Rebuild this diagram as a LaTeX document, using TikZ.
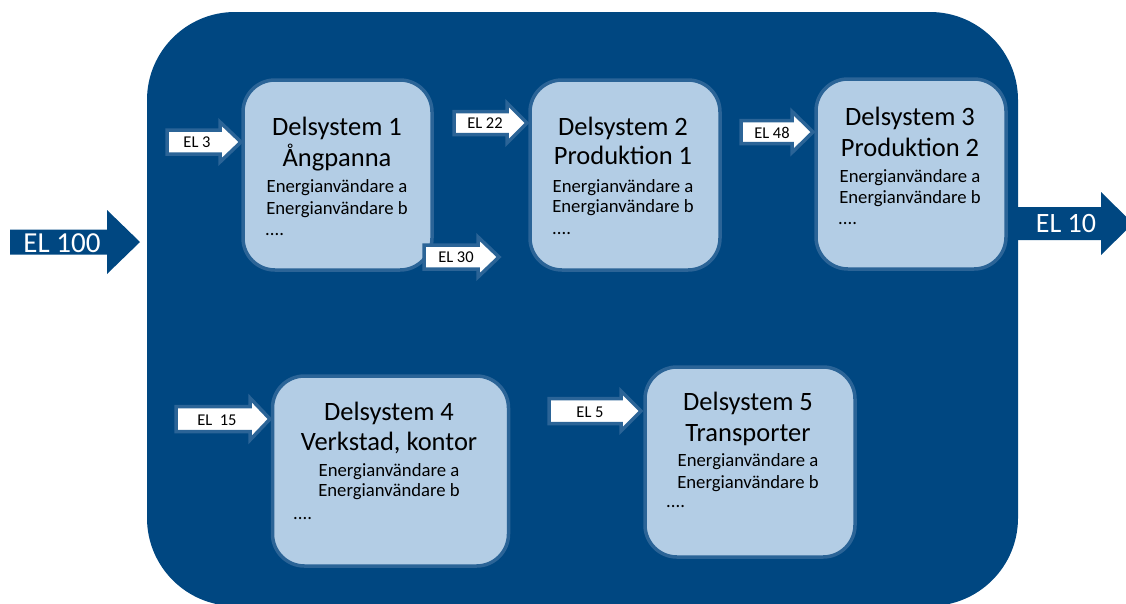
\documentclass[tikz,border=0pt]{standalone}
\usepackage{fontspec}
\setmainfont{Carlito}
\definecolor{panelblue}{HTML}{004781}
\definecolor{boxfill}{HTML}{B3CDE5}
\definecolor{boxline}{HTML}{2B6497}
\newcommand\blockarrow[7]{%
  \path[#1] ({#2},{#5-#6}) -- ({#3},{#5-#6}) -- ({#3},{#5-#7}) -- ({#4},{#5})
    -- ({#3},{#5+#7}) -- ({#3},{#5+#6}) -- ({#2},{#5+#6}) -- cycle;}
\tikzset{
  panel/.style={fill=panelblue, draw=none, rounded corners=88pt, inner sep=0pt},
  subsys/.style={fill=boxfill, draw=boxline, line width=3.5pt, rounded corners=32pt,
    minimum height=190pt, inner sep=0pt},
  flowin/.style={fill=white, draw=boxline, line width=3.5pt},
  flowbig/.style={fill=panelblue, draw=none},
  titletext/.style={font=\fontsize{26.5}{30}\selectfont, anchor=base, inner sep=0pt},
  usertext/.style={font=\fontsize{18.7}{22}\selectfont, anchor=base, inner sep=0pt},
  dotstext/.style={font=\fontsize{18.7}{22}\selectfont, anchor=base west, inner sep=0pt},
  ellabel/.style={font=\fontsize{16.5}{19}\selectfont, anchor=base, inner sep=0pt},
  biglabel/.style={font=\fontsize{28}{32}\selectfont, text=white, anchor=base, inner sep=0pt},
}
\begin{document}
\begin{tikzpicture}[x=1pt,y=-1pt]
\useasboundingbox (0,0) rectangle (1126,603);
\clip (0,0) rectangle (1126,603);

% big panel
\node[panel, minimum width=871pt, minimum height=594pt] (panel) at (582.5,309) {};

% big arrows
\blockarrow{flowbig}{10}{107}{140}{242}{12.5}{32}
\node[biglabel, font=\fontsize{29}{32}\selectfont] (el100) at (62,252) {EL 100};
\blockarrow{flowbig}{1016}{1101}{1133}{223.5}{16.5}{31.5}
\node[biglabel] (el10) at (1066,232) {EL 10};

% subsystem boxes
\node[subsys, minimum width=189pt] (b1) at (337.5,175) {};
\node[subsys, minimum width=190pt] (b2) at (625,175) {};
\node[subsys, minimum width=190pt] (b3) at (911,174) {};
\node[subsys, minimum width=236pt] (b4) at (390.5,471) {};
\node[subsys, minimum width=210pt] (b5) at (750,462) {};

% box texts
\node[titletext] (b1t1) at (337,135) {Delsystem 1};
\node[titletext] (b1t2) at (337,166) {Ångpanna};
\node[usertext] (b1a) at (337,192) {Energianvändare a};
\node[usertext] (b1b) at (337,214) {Energianvändare b};
\node[dotstext] (b1d) at (265,235) {....};

\node[titletext] (b2t1) at (623,135) {Delsystem 2};
\node[titletext] (b2t2) at (623,164) {Produktion 1};
\node[usertext] (b2a) at (623,192) {Energianvändare a};
\node[usertext] (b2b) at (623,212) {Energianvändare b};
\node[dotstext] (b2d) at (552,234) {....};

\node[titletext] (b3t1) at (910,125) {Delsystem 3};
\node[titletext] (b3t2) at (910,156) {Produktion 2};
\node[usertext] (b3a) at (910,182) {Energianvändare a};
\node[usertext] (b3b) at (910,203) {Energianvändare b};
\node[dotstext] (b3d) at (838,224) {....};

\node[titletext] (b4t1) at (389,420) {Delsystem 4};
\node[titletext] (b4t2) at (389,450) {Verkstad, kontor};
\node[usertext] (b4a) at (389,476) {Energianvändare a};
\node[usertext] (b4b) at (389,496) {Energianvändare b};
\node[dotstext] (b4d) at (293,519) {....};

\node[titletext] (b5t1) at (748,410) {Delsystem 5};
\node[titletext] (b5t2) at (748,441) {Transporter};
\node[usertext] (b5a) at (748,466) {Energianvändare a};
\node[usertext] (b5b) at (748,488) {Energianvändare b};
\node[dotstext] (b5d) at (666,507) {....};

% small inflow arrows
\blockarrow{flowin}{167}{220}{241}{142}{12}{20}
\node[ellabel] (el3) at (197,147) {EL 3};
\blockarrow{flowin}{454}{507}{527}{123}{11.5}{20}
\node[ellabel] (el22) at (485,128) {EL 22};
\blockarrow{flowin}{424}{478}{499}{257}{12}{20}
\node[ellabel] (el30) at (456,262) {EL 30};
\blockarrow{flowin}{741}{792}{813}{132}{11.5}{20.5}
\node[ellabel] (el48) at (772,138) {EL 48};
\blockarrow{flowin}{176}{250}{270}{419}{12.5}{21}
\node[ellabel] (el15) at (217,425) {EL\ \ 15};
\blockarrow{flowin}{549}{621}{641}{411}{12.5}{20}
\node[ellabel] (el5) at (590,417) {EL 5};
\end{tikzpicture}
\end{document}
